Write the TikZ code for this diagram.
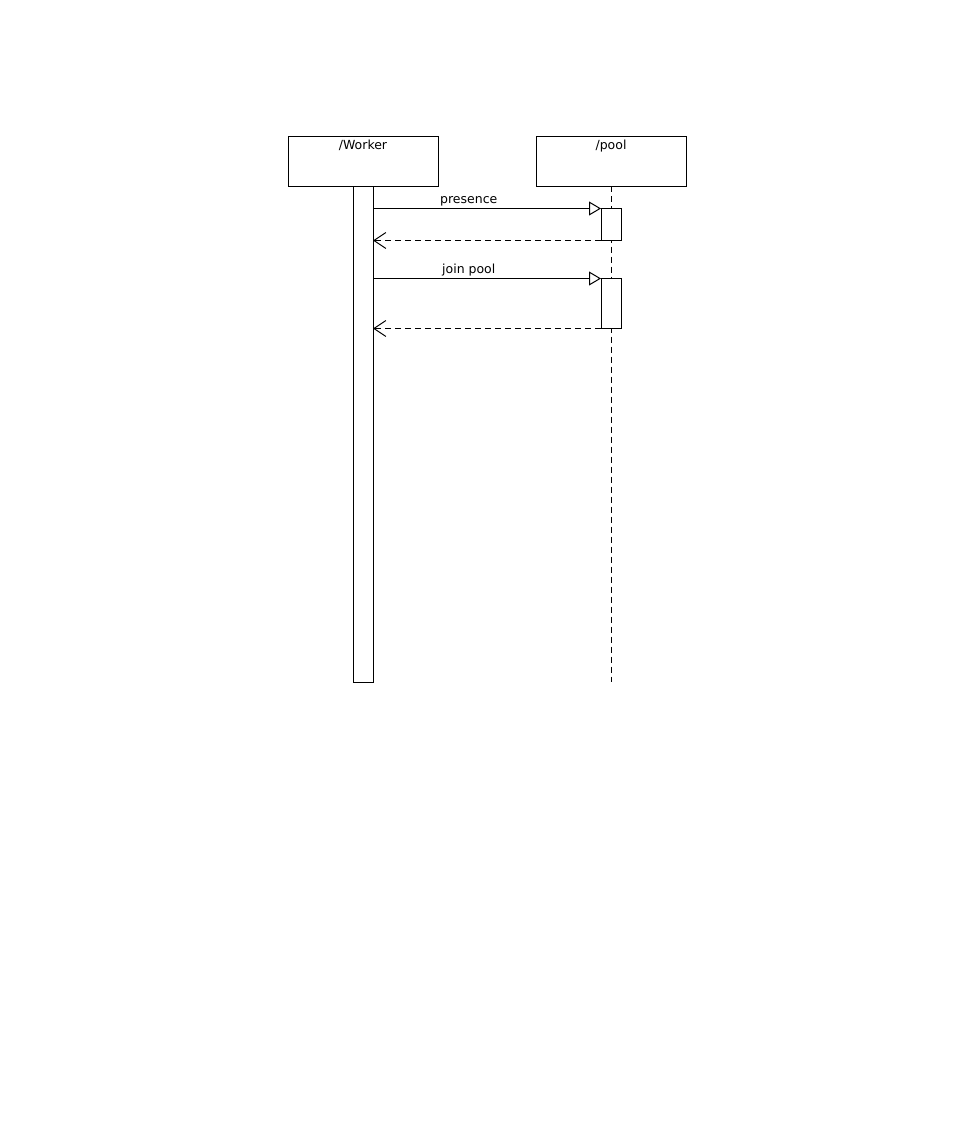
\documentclass[tikz,border=0pt]{standalone}
\usepackage{fontspec}
\setmainfont{DejaVu Sans}
\usetikzlibrary{arrows.meta}
\begin{document}
\begin{tikzpicture}[x=1pt, y=-1pt, line width=1pt, font=\fontsize{12.5}{14}\selectfont,
  object/.style={draw, minimum width=150pt, minimum height=50pt, inner sep=0pt, outer sep=0pt},
  activation/.style={draw, fill=white, minimum width=20pt, inner sep=0pt, outer sep=0pt},
  lifeline/.style={dash pattern=on 6pt off 4pt},
  call/.style={-{Triangle[open, length=12pt, width=14pt]}},
  reply/.style={dash pattern=on 6pt off 4pt, -{Straight Barb[length=12pt, width=16pt]}}]
\useasboundingbox (0,0) rectangle (974,1123);
\node[object, label={[anchor=north, inner sep=3pt, name=workertitle]north:/Worker}] (worker) at (363,161.5) {};
\node[object, label={[anchor=north, inner sep=3pt, name=pooltitle]north:/pool}] (pool) at (611,161.5) {};
\coordinate (poolend) at (611,682);
\draw[lifeline] (pool.south) -- (poolend);
\node[activation, minimum height=496pt] (workerbar) at (363,434.5) {};
\node[activation, minimum height=32pt] (pres) at (611,224.5) {};
\node[activation, minimum height=50pt] (join) at (611,303.5) {};
\draw[call] (workerbar.east |- pres.north) -- node[pos=0.42, above, inner sep=2pt] (preslbl) {presence} (pres.north west);
\draw[reply] (pres.south west) -- (workerbar.east |- pres.south);
\draw[call] (workerbar.east |- join.north) -- node[pos=0.42, above, inner sep=2pt] (joinlbl) {join pool} (join.north west);
\draw[reply] (join.south west) -- (workerbar.east |- join.south);
\end{tikzpicture}
\end{document}
